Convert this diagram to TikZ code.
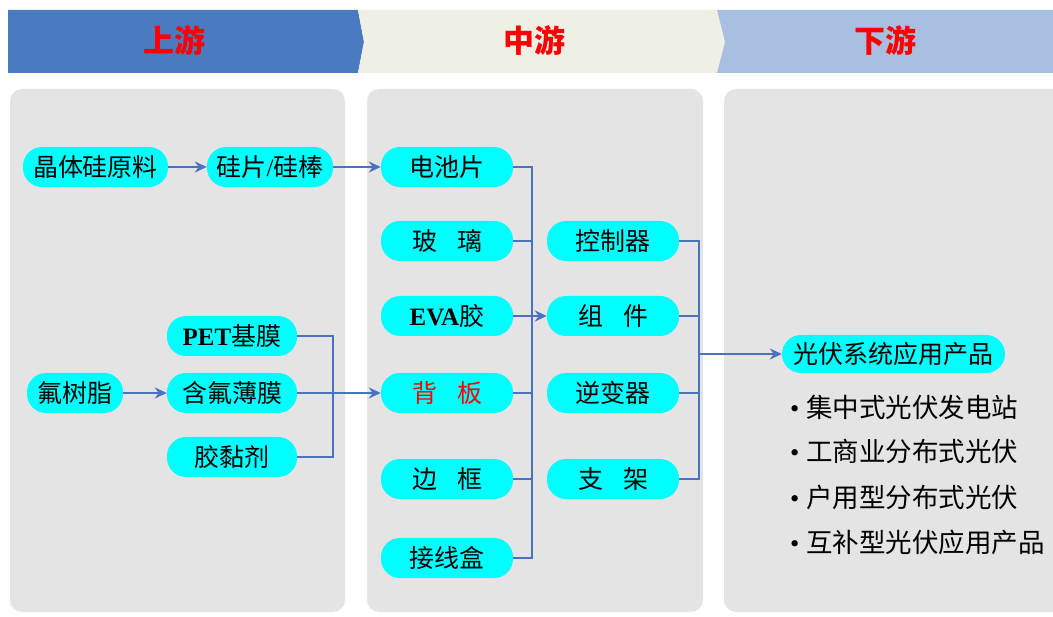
\documentclass[tikz,border=0pt]{standalone}
\usepackage{fontspec}
\setmainfont{Liberation Serif}
\newfontfamily\cjk{Noto Sans CJK SC}
\usetikzlibrary{arrows.meta}
\definecolor{segA}{HTML}{4A7BC1}
\definecolor{segB}{HTML}{EEF0E6}
\definecolor{segC}{HTML}{A8BFE1}
\definecolor{panelgray}{HTML}{E4E4E4}
\definecolor{pillcyan}{HTML}{00FFFF}
\definecolor{linkblue}{HTML}{4A72C0}
\definecolor{hdred}{HTML}{FF0000}
\begin{document}
\begin{tikzpicture}[x=1pt,y=-1pt,
  pill/.style={fill=pillcyan,rounded corners=19pt,minimum height=40pt,inner sep=0pt,text=black,
    font=\cjk\fontsize{25}{25}\selectfont},
  hdtext/.style={text=hdred,font=\cjk\bfseries\fontsize{31}{31}\selectfont},
  panel/.style={fill=panelgray,rounded corners=12pt},
  ln/.style={draw=linkblue,line width=2.4pt},
  arr/.style={ln,-{Stealth[length=12pt,width=11pt]}},
  bul/.style={anchor=west,inner sep=0pt,font=\fontsize{26.5}{26.5}\selectfont}
]
\useasboundingbox (0,0) rectangle (1053,617);
\fill[white] (0,0) rectangle (1053,617);
% header band
\fill[segA] (8,10) -- (358,10) -- (364,42) -- (358,73) -- (8,73) -- cycle;
\fill[segB] (358,10) -- (717,10) -- (725,42) -- (717,73) -- (358,73) -- (364,42) -- cycle;
\fill[segC] (717,10) -- (1053,10) -- (1053,73) -- (717,73) -- (725,42) -- cycle;
\node[hdtext] (h1) at (174,41) {上游};
\node[hdtext] (h2) at (534,41) {中游};
\node[hdtext] (h3) at (885,41) {下游};
% panels
\fill[panel] (10,89) rectangle (345,612);
\fill[panel] (367,89) rectangle (703,612);
\fill[panel] (724,89) rectangle (1065,612);
% upstream nodes
\node[pill,minimum width=145pt] (jt) at (95.5,167) {晶体硅原料};
\node[pill,minimum width=126pt] (gp) at (270,167) {硅片{\rmfamily /}硅棒};
\node[pill,minimum width=130pt] (pet) at (232,336) {{\rmfamily\bfseries PET}基膜};
\node[pill,minimum width=130pt] (hf) at (232,393) {含氟薄膜};
\node[pill,minimum width=130pt] (jn) at (232,457) {胶黏剂};
\node[pill,minimum width=96pt] (fs) at (75,393) {氟树脂};
% midstream column 1
\node[pill,minimum width=132pt] (dc) at (447,167) {电池片};
\node[pill,minimum width=132pt] (bl) at (447,241) {玻\hspace{0.8em}璃};
\node[pill,minimum width=132pt] (eva) at (447,316) {{\rmfamily\bfseries EVA}胶};
\node[pill,minimum width=132pt,text=hdred] (bb) at (447,393) {背\hspace{0.8em}板};
\node[pill,minimum width=132pt] (bk) at (447,479) {边\hspace{0.8em}框};
\node[pill,minimum width=132pt] (jx) at (447,558) {接线盒};
% midstream column 2
\node[pill,minimum width=132pt] (kz) at (613,241) {控制器};
\node[pill,minimum width=132pt] (zj) at (613,316) {组\hspace{0.8em}件};
\node[pill,minimum width=132pt] (nb) at (613,393) {逆变器};
\node[pill,minimum width=132pt] (zjia) at (613,479) {支\hspace{0.8em}架};
% downstream
\node[pill,minimum width=223pt,minimum height=38pt] (gf) at (893.5,354) {光伏系统应用产品};
\node[bul] (b1) at (790,407) {•\hspace{7pt}{\cjk 集中式光伏发电站}};
\node[bul] (b2) at (790,451) {•\hspace{7pt}{\cjk 工商业分布式光伏}};
\node[bul] (b3) at (790,497) {•\hspace{7pt}{\cjk 户用型分布式光伏}};
\node[bul] (b4) at (790,542) {•\hspace{7pt}{\cjk 互补型光伏应用产品}};
% connectors
\coordinate (busL) at (333,393);
\coordinate (busM) at (532,316);
\coordinate (busR) at (699,354);
\draw[arr] (jt.east) -- (gp.west);
\draw[arr] (gp.east) -- (dc.west);
\draw[arr] (fs.east) -- (hf.west);
\draw[ln] (pet.east) -| (busL);
\draw[ln] (jn.east) -| (busL);
\draw[arr] (hf.east) -- (bb.west);
\draw[ln] (dc.east) -| (busM);
\draw[ln] (bl.east) -| (busM);
\draw[ln] (bb.east) -| (busM);
\draw[ln] (bk.east) -| (busM);
\draw[ln] (jx.east) -| (busM);
\draw[arr] (eva.east) -- (zj.west);
\draw[ln] (kz.east) -| (busR);
\draw[ln] (zj.east) -| (busR);
\draw[ln] (nb.east) -| (busR);
\draw[ln] (zjia.east) -| (busR);
\draw[arr] (busR) -- (gf.west);
\end{tikzpicture}
\end{document}
